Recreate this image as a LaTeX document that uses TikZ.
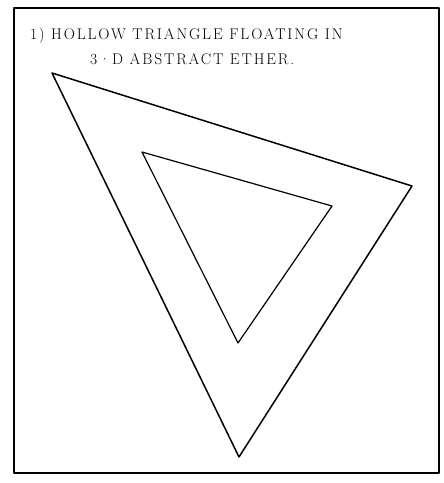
\documentclass[tikz,border=0pt]{standalone}
\usepackage{fontspec}
\usepackage{tikz}
\usetikzlibrary{calc}
\newfontfamily\sketchfont[LetterSpace=12]{Latin Modern Roman}

\begin{document}
\begin{tikzpicture}[x=1pt,y=-1pt,
    font=\sketchfont\fontsize{15.5}{20}\selectfont,
    line cap=round, line join=round]
  \useasboundingbox (0,0) rectangle (444,483);
  % frame
  \draw[line width=1.2pt] (14,8) rectangle (439,473);
  \node[anchor=base west, inner sep=0pt] (title) at (30,39)
    {1) HOLLOW TRIANGLE FLOATING IN};
  \node[anchor=base west, inner sep=0pt] (subtitle) at (90,64)
    {3\textperiodcentered D ABSTRACT ETHER.};
  % outer and inner triangle
  \coordinate (outA) at (52,73);
  \coordinate (outB) at (412,186);
  \coordinate (outC) at (239,457);
  \coordinate (inA) at (142,152);
  \coordinate (inB) at (332,206);
  \coordinate (inC) at (238,343);
  \draw[line width=1.5pt] (outA) -- (outB) -- (outC) -- cycle;
  \draw[line width=1.2pt] (inA) -- (inB) -- (inC) -- cycle;
\end{tikzpicture}
\end{document}
